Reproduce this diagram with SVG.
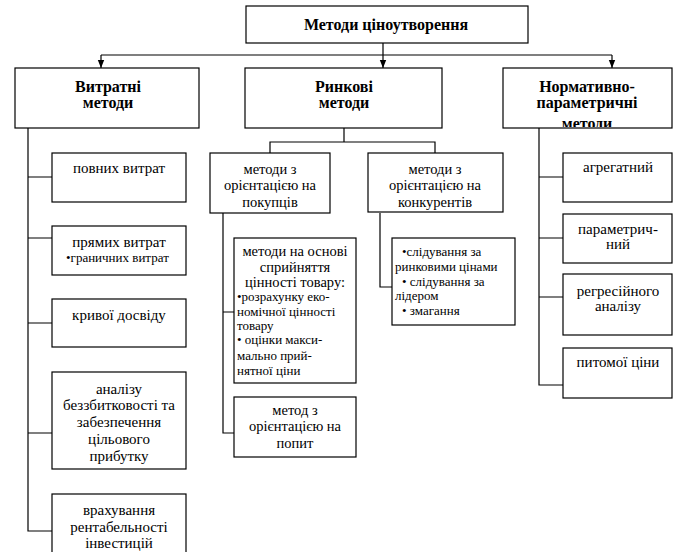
<svg xmlns="http://www.w3.org/2000/svg" width="677" height="552" viewBox="0 0 677 552">
<style>
.box{fill:#fff;stroke:#000;stroke-width:1.2}
.ln{fill:none;stroke:#000;stroke-width:1.2}
.t{font-family:Liberation Serif,serif;font-size:15px;text-anchor:middle}
.m{font-family:Liberation Serif,serif;font-size:14.5px;text-anchor:middle}
.b{font-family:Liberation Serif,serif;font-size:16px;font-weight:bold;text-anchor:middle}
.s{font-family:Liberation Serif,serif;font-size:13px}
</style>
<defs>
<marker id="arr" markerWidth="8" markerHeight="10" refX="10" refY="4" orient="auto" markerUnits="userSpaceOnUse" viewBox="0 0 10 8">
<path d="M0,0 L10,4 L0,8 Z" fill="#000"/>
</marker>
<clipPath id="cr"><rect x="503" y="68" width="169" height="59"/></clipPath>
</defs>
<g id="connectors">
<path class="ln" d="M383,43 V55 M101,55 H612"/>
<path class="ln" d="M101,55 V68" marker-end="url(#arr)"/>
<path class="ln" d="M383,55 V68" marker-end="url(#arr)"/>
<path class="ln" d="M612,55 V68" marker-end="url(#arr)"/>
<path class="ln" d="M28,128 V531 H52 M28,177 H52 M28,238 H52 M28,323 H52 M28,433 H52"/>
<path class="ln" d="M344,128 V142 M270,153 V142 H435 V153"/>
<path class="ln" d="M223,213 V433 H234 M223,312 H234"/>
<path class="ln" d="M380,213 V287 H392"/>
<path class="ln" d="M539,128 V385 H563 M539,177 H563 M539,238 H563 M539,297 H563"/>
</g>
<g id="root"><rect class="box" x="246" y="6" width="282" height="37"/><text class="b" x="386" y="30">Методи ціноутворення</text></g>
<g id="cost"><rect class="box" x="15" y="68" width="184" height="60"/><text class="b" x="108" y="92">Витратні</text><text class="b" x="108" y="108">методи</text></g>
<g id="market"><rect class="box" x="245" y="68" width="197" height="60"/><text class="b" x="344" y="92">Ринкові</text><text class="b" x="344" y="108">методи</text></g>
<g id="norm"><rect class="box" x="503" y="68" width="169" height="60"/><g clip-path="url(#cr)"><text class="b" x="587" y="92">Нормативно-</text><text class="b" x="587" y="108">параметричні</text><text class="b" x="587" y="129">методи</text></g></g>
<g id="full"><rect class="box" x="52" y="153" width="134" height="49"/><text class="t" x="119" y="173">повних витрат</text></g>
<g id="direct"><rect class="box" x="52" y="226" width="134" height="49"/><text class="t" x="119" y="247">прямих витрат</text><text class="s" x="66" y="262">•граничних витрат</text></g>
<g id="curve"><rect class="box" x="52" y="299" width="134" height="48"/><text class="t" x="119" y="320">кривої досвіду</text></g>
<g id="breakeven"><rect class="box" x="52" y="372" width="134" height="97"/><text class="t" x="119" y="394">аналізу</text><text class="t" x="119" y="410">беззбитковості та</text><text class="t" x="119" y="427">забезпечення</text><text class="t" x="119" y="444">цільового</text><text class="t" x="119" y="461">прибутку</text></g>
<g id="roi"><rect class="box" x="52" y="494" width="134" height="64"/><text class="t" x="119" y="515">врахування</text><text class="t" x="119" y="532">рентабельності</text><text class="t" x="119" y="548">інвестицій</text></g>
<g id="buyers"><rect class="box" x="210" y="153" width="120" height="60"/><text class="m" x="270" y="174">методи з</text><text class="m" x="270" y="190">орієнтацією на</text><text class="m" x="270" y="207">покупців</text></g>
<g id="competitors"><rect class="box" x="368" y="153" width="135" height="59"/><text class="m" x="435" y="174">методи з</text><text class="m" x="435" y="190">орієнтацією на</text><text class="m" x="435" y="207">конкурентів</text></g>
<g id="value"><rect class="box" x="234" y="238" width="122" height="145"/><text class="m" x="295" y="256">методи на основі</text><text class="m" x="295" y="272">сприйняття</text><text class="m" x="295" y="287">цінності товару:</text><text class="s" x="237" y="301">•розрахунку еко-</text><text class="s" x="237" y="316">номічної цінності</text><text class="s" x="237" y="330">товару</text><text class="s" x="237" y="344">• оцінки макси-</text><text class="s" x="237" y="360">мально прий-</text><text class="s" x="237" y="375">нятної ціни</text></g>
<g id="demand"><rect class="box" x="234" y="397" width="122" height="60"/><text class="m" x="295" y="415">метод з</text><text class="m" x="295" y="431">орієнтацією на</text><text class="m" x="295" y="448">попит</text></g>
<g id="follow"><rect class="box" x="392" y="238" width="123" height="87"/><text class="s" x="402" y="256">•слідування за</text><text class="s" x="395" y="271">ринковими цінами</text><text class="s" x="402" y="286">• слідування за</text><text class="s" x="395" y="300">лідером</text><text class="s" x="402" y="315">• змагання</text></g>
<g id="aggregate"><rect class="box" x="563" y="153" width="109" height="49"/><text class="t" x="618" y="172">агрегатний</text></g>
<g id="parametric"><rect class="box" x="563" y="214" width="109" height="49"/><text class="t" x="618" y="234">параметрич-</text><text class="t" x="618" y="249">ний</text></g>
<g id="regression"><rect class="box" x="563" y="274" width="109" height="61"/><text class="t" x="618" y="296">регресійного</text><text class="t" x="618" y="311">аналізу</text></g>
<g id="unit"><rect class="box" x="563" y="348" width="109" height="50"/><text class="t" x="618" y="367">питомої ціни</text></g>
</svg>
